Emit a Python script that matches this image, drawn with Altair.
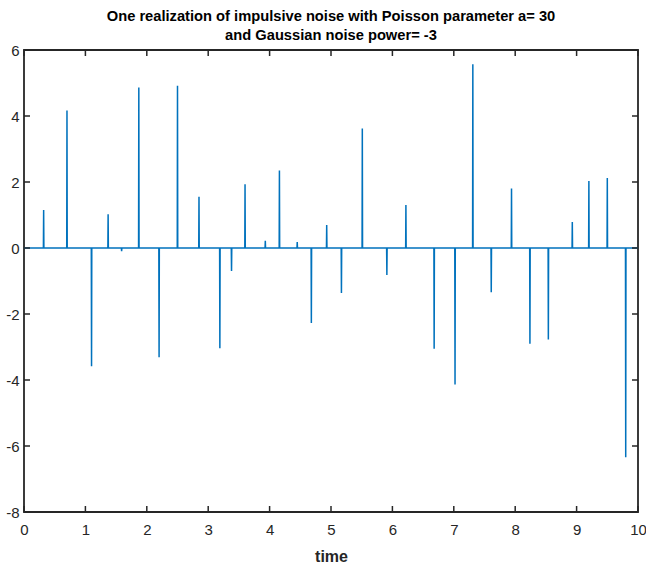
import altair as alt
import pandas as pd

# impulse times and amplitudes
imp_times = [0.32, 0.70, 1.10, 1.37, 1.59, 1.87, 2.20, 2.50, 2.85, 3.19, 3.38,
             3.60, 3.93, 4.16, 4.45, 4.68, 4.93, 5.17, 5.51, 5.91, 6.22, 6.68,
             7.02, 7.31, 7.61, 7.94, 8.24, 8.54, 8.93, 9.20, 9.50, 9.80]
imp_values = [1.15, 4.17, -3.58, 1.02, -0.10, 4.86, -3.31, 4.92, 1.55, -3.04, -0.70,
              1.93, 0.22, 2.35, 0.18, -2.27, 0.70, -1.36, 3.62, -0.82, 1.30, -3.05,
              -4.14, 5.57, -1.34, 1.80, -2.90, -2.77, 0.79, 2.03, 2.12, -6.34]
x_ticks = [0, 1, 2, 3, 4, 5, 6, 7, 8, 9, 10]
y_ticks = [-8, -6, -4, -2, 0, 2, 4, 6]

W, H = 614, 462
FONT = "Liberation Sans, Arial, sans-serif"
AXC = "#262626"

xs, ys = [0.0], [0.0]
for t, v in zip(imp_times, imp_values):
    xs += [t - 0.004, t, t + 0.004]
    ys += [0.0, v, 0.0]
xs.append(10.0)
ys.append(0.0)
df = pd.DataFrame({"x": xs, "y": ys})

xscale = alt.Scale(domain=[0, 10], nice=False, zero=False)
yscale = alt.Scale(domain=[-8, 6], nice=False, zero=False)

xaxis = alt.Axis(values=x_ticks, title="time", ticks=False, domain=False,
                 grid=False, labelPadding=10, titlePadding=11, labelFlush=False,
                 titleFontSize=16, titleFontWeight="bold", titleFont=FONT,
                 labelFont=FONT, labelColor=AXC, titleColor=AXC,
                 labelFontSize=15, labelExpr="toString(datum.value)")
yaxis = alt.Axis(values=y_ticks, title=None, ticks=False, domain=False,
                 grid=False, labelPadding=5, labelFontSize=15, labelFlush=False,
                 labelExpr="toString(datum.value)",
                 labelFont=FONT, labelColor=AXC)

X = alt.X("x:Q", scale=xscale, axis=xaxis)
Y = alt.Y("y:Q", scale=yscale, axis=yaxis)

line = alt.Chart(df).mark_line(color="#0072BD", strokeWidth=1.5).encode(x=X, y=Y)

ytdf = pd.DataFrame({"y": y_ticks})
xtdf = pd.DataFrame({"x": x_ticks})

yt_left = alt.Chart(ytdf).mark_rule(color=AXC, strokeWidth=1.5).encode(
    y=Y, x=alt.value(0), x2=alt.value(6))
yt_right = alt.Chart(ytdf).mark_rule(color=AXC, strokeWidth=1.5).encode(
    y=Y, x=alt.value(W - 6), x2=alt.value(W))
xt_bot = alt.Chart(xtdf).mark_rule(color=AXC, strokeWidth=1.5).encode(
    x=X, y=alt.value(H - 6), y2=alt.value(H))
xt_top = alt.Chart(xtdf).mark_rule(color=AXC, strokeWidth=1.5).encode(
    x=X, y=alt.value(0), y2=alt.value(6))

chart = alt.layer(line, yt_left, yt_right, xt_bot, xt_top).properties(
    width=W, height=H,
    title=alt.TitleParams(
        text=["One realization of impulsive noise with Poisson parameter a= 30",
              "and Gaussian noise power= -3"],
        font="Liberation Sans", fontSize=14.7, fontWeight="bold", color="#000000",
        anchor="middle", offset=0, lineHeight=19),
    autosize=alt.AutoSizeParams(type="none"),
    padding={"left": 24, "top": 50, "right": 8, "bottom": 58},
    background="white",
).configure_view(stroke=AXC, strokeWidth=1.8)

chart.save("out.html", embed_options={"renderer": "svg", "actions": False})
